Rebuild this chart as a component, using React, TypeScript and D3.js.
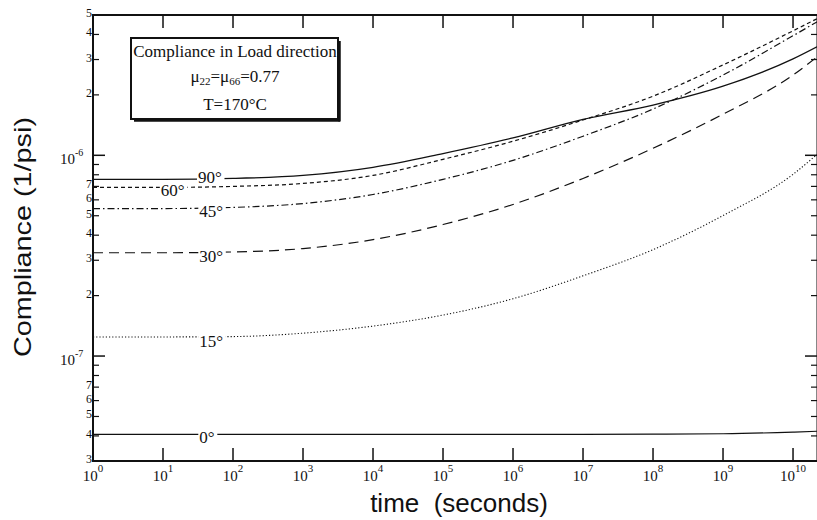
import React from "react";
import * as d3 from "d3";

// ---- data ----
const times = [1, 1e1, 1e2, 1e3, 1e4, 1e5, 1e6, 1e7, 1e8, 1e9, 1e10, 2.2e10];
const c90 = [7.59e-7, 7.59e-7, 7.67e-7, 7.94e-7, 8.71e-7, 1.02e-6, 1.22e-6, 1.51e-6, 1.78e-6, 2.21e-6, 3.02e-6, 3.47e-6];
const c60 = [6.92e-7, 6.92e-7, 7.0e-7, 7.24e-7, 7.94e-7, 9.55e-7, 1.175e-6, 1.5e-6, 1.97e-6, 2.82e-6, 4.17e-6, 4.79e-6];
const c45 = [5.43e-7, 5.43e-7, 5.5e-7, 5.75e-7, 6.38e-7, 7.59e-7, 9.44e-7, 1.245e-6, 1.7e-6, 2.51e-6, 3.94e-6, 4.62e-6];
const c30 = [3.27e-7, 3.27e-7, 3.3e-7, 3.43e-7, 3.8e-7, 4.52e-7, 5.69e-7, 7.67e-7, 1.084e-6, 1.603e-6, 2.51e-6, 3.09e-6];
const c15 = [1.245e-7, 1.245e-7, 1.25e-7, 1.3e-7, 1.41e-7, 1.6e-7, 1.93e-7, 2.51e-7, 3.39e-7, 5.01e-7, 8.04e-7, 1.01e-6];
const c0 = [4.07e-8, 4.07e-8, 4.07e-8, 4.07e-8, 4.07e-8, 4.07e-8, 4.07e-8, 4.07e-8, 4.08e-8, 4.1e-8, 4.18e-8, 4.22e-8];
const angleLabels = ["90°", "60°", "45°", "30°", "15°", "0°"];
const labelTimes = [31.6, 9.3, 33, 33, 33, 33];
const xTickExps = [0, 1, 2, 3, 4, 5, 6, 7, 8, 9, 10];
const yMajor = [1e-7, 1e-6];
const yMinorMult = [2, 3, 4, 5, 6, 7, 8, 9];
const yDecades = [1e-8, 1e-7, 1e-6];
const legendLines = ["Compliance in Load direction", "T=170°C"];

const series = [c90, c60, c45, c30, c15, c0];
const dashes = ["none", "4,3", "7,3,1.5,3", "10,6", "1.2,2", "none"];
const widths = [1.3, 1.2, 1.2, 1.2, 1.1, 1.2];
const labelDy = [4, 9, 8, 9, 10, 9];

const W = 817, H = 520;
const L = 93, R = 817, T = 15, B = 461;

export default function App() {
  const x = d3.scaleLog().domain([1, 2.2e10]).range([L, R]);
  const y = d3.scaleLog().domain([3e-8, 5e-6]).range([B, T]);
  const line = d3
    .line<[number, number]>()
    .x((d) => x(d[0]))
    .y((d) => y(d[1]))
    .curve(d3.curveMonotoneX);

  const minors: { v: number; m: number }[] = [];
  yDecades.forEach((dec) =>
    yMinorMult.forEach((m) => {
      const v = dec * m;
      if (v >= 3e-8 * 0.999 && v <= 5e-6 * 1.001) minors.push({ v, m });
    })
  );

  const serif = "'Liberation Serif', 'Times New Roman', serif";
  const sans = "'Liberation Sans', Arial, sans-serif";

  return (
    <div style={{ position: "absolute", left: 0, top: 0 }}>
      <svg width={W} height={H} style={{ display: "block", background: "#fff" }}>
        <rect x={0} y={0} width={W} height={H} fill="#fff" />
        {/* curves */}
        {series.map((s, i) => (
          <path
            key={i}
            d={line(times.map((t, j) => [t, s[j]] as [number, number])) || ""}
            fill="none"
            stroke="#111"
            strokeWidth={widths[i]}
            strokeDasharray={dashes[i]}
          />
        ))}
        {/* curve labels */}
        {series.map((s, i) => {
          const lx = x(labelTimes[i]);
          const ly = y(s[0]) + labelDy[i];
          return (
            <g key={"l" + i}>
              <rect x={lx - 1} y={ly - 12} width={angleLabels[i].length * 8.5 + 2} height={13} fill="#fff" />
              <text x={lx} y={ly} fontFamily={serif} fontSize={17} fill="#111">
                {angleLabels[i]}
              </text>
            </g>
          );
        })}
        {/* frame */}
        <line x1={L} x2={L} y1={T - 1} y2={B + 1} stroke="#111" strokeWidth={2} />
        <line x1={L} x2={R + 2} y1={B} y2={B} stroke="#111" strokeWidth={2} />
        <line x1={L} x2={R + 2} y1={T} y2={T} stroke="#111" strokeWidth={2} />
        <line x1={R + 0.5} x2={R + 0.5} y1={T} y2={B} stroke="#111" strokeWidth={2} />
        {/* x ticks */}
        {xTickExps.map((e) => {
          const px = x(Math.pow(10, e));
          return (
            <g key={"xt" + e}>
              <line x1={px} x2={px} y1={B} y2={B - 13} stroke="#111" strokeWidth={1.5} />
              <line x1={px} x2={px} y1={T} y2={T + 13} stroke="#111" strokeWidth={1.5} />
              <text x={px} y={481} textAnchor="middle" fontFamily={serif} fontSize={15} fill="#111">
                10
                <tspan dy={-9} fontSize={11}>
                  {e}
                </tspan>
              </text>
            </g>
          );
        })}
        {/* y major ticks */}
        {yMajor.map((v) => {
          const py = y(v);
          const ex = Math.round(Math.log10(v));
          return (
            <g key={"ym" + ex}>
              <line x1={L} x2={L + 12} y1={py} y2={py} stroke="#111" strokeWidth={1.5} />
              <line x1={R} x2={R - 12} y1={py} y2={py} stroke="#111" strokeWidth={1.5} />
              <text x={75} y={py + 9} textAnchor="end" fontFamily={serif} fontSize={15} fill="#111">
                10
              </text>
              <text x={75} y={py + 1} textAnchor="start" fontFamily={serif} fontSize={10} fill="#111">
                {ex}
              </text>
            </g>
          );
        })}
        {/* y minor ticks */}
        {minors.map(({ v, m }) => {
          const py = y(v);
          return (
            <g key={"yn" + v}>
              <line x1={L} x2={L + 6} y1={py} y2={py} stroke="#111" strokeWidth={1.2} />
              <line x1={R} x2={R - 6} y1={py} y2={py} stroke="#111" strokeWidth={1.2} />
              {m <= 7 && (
                <text x={L - 1} y={py + 2} textAnchor="end" fontFamily={serif} fontSize={12} fill="#111">
                  {m}
                </text>
              )}
            </g>
          );
        })}
        {/* legend box */}
        <rect x={131} y={38} width={207} height={81} fill="#fff" stroke="#111" strokeWidth={2} />
        <line x1={134} x2={340} y1={120.5} y2={120.5} stroke="#111" strokeWidth={2.5} />
        <line x1={339.5} x2={339.5} y1={41} y2={121.5} stroke="#111" strokeWidth={2.5} />
        <text x={235} y={57} textAnchor="middle" fontFamily={serif} fontSize={17} fill="#111">
          {legendLines[0]}
        </text>
        <text x={235} y={82} textAnchor="middle" fontFamily={serif} fontSize={17} fill="#111">
          μ<tspan dy={3} fontSize={11}>22</tspan>
          <tspan dy={-3}>=μ</tspan>
          <tspan dy={3} fontSize={11}>66</tspan>
          <tspan dy={-3}>=0.77</tspan>
        </text>
        <text x={235} y={110} textAnchor="middle" fontFamily={serif} fontSize={17} fill="#111">
          {legendLines[1]}
        </text>
        {/* axis titles */}
        <text
          x={459}
          y={512}
          textAnchor="middle"
          fontFamily={sans}
          fontSize={26}
          fill="#111"
          style={{ whiteSpace: "pre" }}
        >
          {"time  (seconds)"}
        </text>
        <text
          transform="translate(31,237) rotate(-90)"
          textAnchor="middle"
          fontFamily={sans}
          fontSize={24}
          fill="#111"
          textLength={240}
          lengthAdjust="spacingAndGlyphs"
        >
          Compliance (1/psi)
        </text>
      </svg>
    </div>
  );
}
